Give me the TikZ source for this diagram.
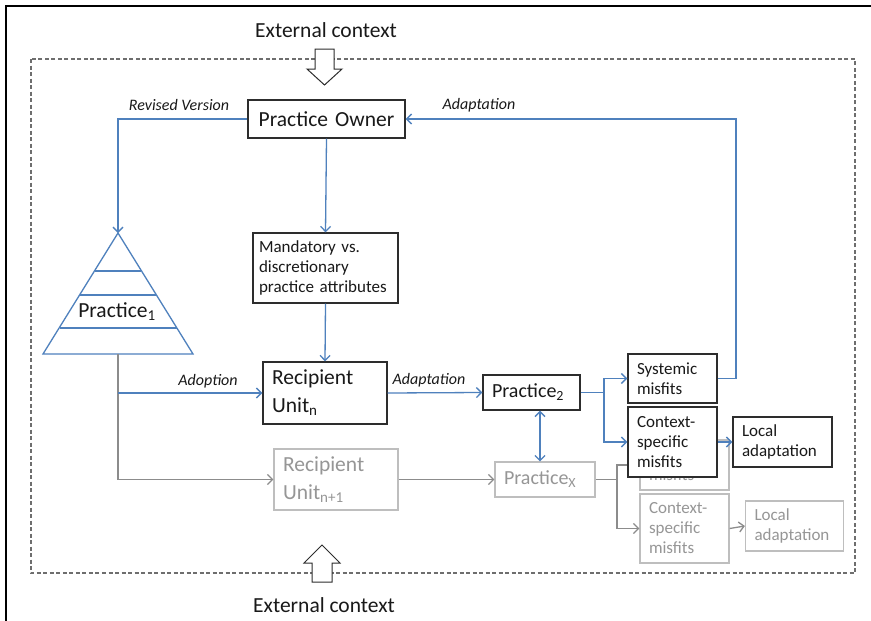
\documentclass[tikz,border=0pt]{standalone}
\usepackage{fontspec}
\setmainfont{Carlito}
\usetikzlibrary{arrows.meta}
\definecolor{blueln}{RGB}{79,129,189}
\definecolor{boxc}{RGB}{45,45,45}
\definecolor{txtc}{RGB}{25,25,25}
\definecolor{grayln}{RGB}{140,140,140}
\definecolor{grayb}{RGB}{190,190,190}
\definecolor{grayt}{RGB}{150,150,150}
\definecolor{dashc}{RGB}{110,110,110}
\newcommand\fBig{\fontsize{21.5}{28}\selectfont}
\newcommand\fMid{\fontsize{20}{24}\selectfont}
\newcommand\fSmall{\fontsize{17}{20}\selectfont}
\newcommand\fLab{\fontsize{16}{19}\selectfont\itshape}
\begin{document}
\begin{tikzpicture}[x=1pt,y=-1pt,
  tip/.style={-{Straight Barb[length=5pt,width=10pt]}},
  bline/.style={draw=blueln,line width=1.3pt},
  gline/.style={draw=grayln,line width=1.3pt},
  bbox/.style={draw=boxc,line width=1.4pt,fill=white,inner xsep=9pt,inner ysep=0pt,align=left,text=txtc},
  gbox/.style={draw=grayb,line width=1.3pt,fill=white,inner xsep=9pt,inner ysep=0pt,align=left,text=grayt},
  lab/.style={font=\fLab,text=txtc,inner sep=0pt},
  hollow/.style={draw=boxc,line width=1pt,fill=white,line join=miter}]
\useasboundingbox (0,0) rectangle (871,621);
\fill[white] (0,0) rectangle (871,621);
% outer frame (top and left)
\draw[black,line width=1.5pt] (6,621) -- (6,6) -- (871,6);
% dashed context frame
\draw[dashc,line width=1.3pt,dash pattern=on 4pt off 2.5pt] (31,59) rectangle (855,573);
% external context
\node[font=\fBig,text=txtc] (ectop) at (326,30) {External context};
\node[font=\fBig,text=txtc] (ecbot) at (324,605) {External context};
\draw[hollow] (315,49) -- (334,49) -- (334,69) -- (342,69) -- (324.5,85) -- (307,69) -- (315,69) -- cycle;
\draw[hollow] (322,545) -- (340,563) -- (332,563) -- (332,582) -- (312,582) -- (312,563) -- (304,563) -- cycle;

% gray (second recipient) layer
\node[gbox,font=\fBig,minimum width=124pt,minimum height=61pt,text width=106pt] (rn1) at (336,479.5) {Recipient\\Unit\textsubscript{n+1}};
\node[gbox,font=\fMid,minimum width=100pt,minimum height=35pt,text width=82pt] (px) at (545,479.5) {Practice\textsubscript{X}};
\node[gbox,font=\fSmall,minimum width=87pt,minimum height=50pt,text width=71pt] (gsys) at (684.5,465) {Systemic\\misfits};
\node[gbox,font=\fSmall,minimum width=87pt,minimum height=69pt,text width=71pt] (gctx) at (684.5,528.5) {Context-\\specific\\misfits};
\node[gbox,font=\fSmall,minimum width=96pt,minimum height=50pt,text width=80pt] (gla) at (794.5,526) {Local\\adaptation};
\coordinate (gx) at (617,0);
\draw[gline,tip] (rn1.east) -- (px.west);
\draw[gline] (px.east) -- (gx |- px.east);
\draw[gline,tip] (gx |- px.east) |- (gsys.west);
\draw[gline,tip] (gx |- px.east) |- (gctx.west);
\draw[gline,tip] (gctx.east) -- (gla.west);

% main layer
\node[bbox,font=\fBig,minimum width=157pt,minimum height=38pt,text width=139pt,align=center] (po) at (326.5,119) {Practice Owner};
\node[bbox,font=\fSmall,minimum width=145pt,minimum height=70pt,text width=133pt,inner xsep=6pt] (mand) at (325.5,268) {Mandatory vs.\\discretionary\\practice attributes};
\node[bbox,font=\fBig,minimum width=124pt,minimum height=62pt,text width=106pt] (ru) at (325,393) {Recipient\\Unit\textsubscript{n}};
\node[bbox,font=\fMid,minimum width=97pt,minimum height=35pt,text width=79pt] (p2) at (531.5,392.5) {Practice\textsubscript{2}};
\node[bbox,font=\fSmall,minimum width=87pt,minimum height=49pt,text width=71pt] (sys) at (672.5,378.5) {Systemic\\misfits};
\node[bbox,font=\fSmall,minimum width=87pt,minimum height=70pt,text width=71pt] (ctx) at (672.5,442) {Context-\\specific\\misfits};
\node[bbox,font=\fSmall,minimum width=97pt,minimum height=50pt,text width=81pt] (la) at (782.5,442) {Local\\adaptation};

% pyramid Practice_1
\coordinate (apex) at (118,233);
\coordinate (tbase) at (118,354);
\draw[blueln,line width=1.3pt,line join=miter] (apex) -- (193,354) -- (43,354) -- cycle;
\draw[blueln,line width=1.3pt] (94.6,271) -- (141.4,271);
\draw[blueln,line width=1.3pt] (79.8,295) -- (156.2,295);
\draw[blueln,line width=1.3pt] (59.5,328) -- (176.5,328);
\node[font=\fBig,text=txtc] (p1) at (117,312) {Practice\textsubscript{1}};

% connectors
\draw[bline,tip] (po.west) -| (apex);
\node[lab] (lrev) at (179,105) {Revised Version};
\coordinate (rx) at (736,0);
\draw[bline,tip] (sys.east) -| (rx |- po.east) -- (po.east);
\node[lab] (ladap1) at (479,105) {Adaptation};
\draw[bline,tip] (po.south) -- (mand.north);
\draw[bline,tip] (mand.south) -- (ru.north);
\draw[gline,tip] (tbase) |- (rn1.west);
\draw[bline,tip] (tbase |- ru.west) -- (ru.west);
\node[lab] (ladop) at (208,381) {Adoption};
\draw[bline,tip] (ru.east) -- (p2.west);
\node[lab] (ladap2) at (429,380) {Adaptation};
\coordinate (ax) at (540,0);
\draw[bline,{Straight Barb[length=5pt,width=10pt]}-{Straight Barb[length=5pt,width=10pt]}] (ax |- p2.south) -- (ax |- px.north);
\coordinate (bx) at (604,0);
\draw[bline] (p2.east) -- (bx |- p2.east);
\draw[bline,tip] (bx |- p2.east) |- (sys.west);
\draw[bline,tip] (bx |- p2.east) |- (ctx.west);
\draw[bline,tip] (ctx.east) -- (la.west);
\end{tikzpicture}
\end{document}
